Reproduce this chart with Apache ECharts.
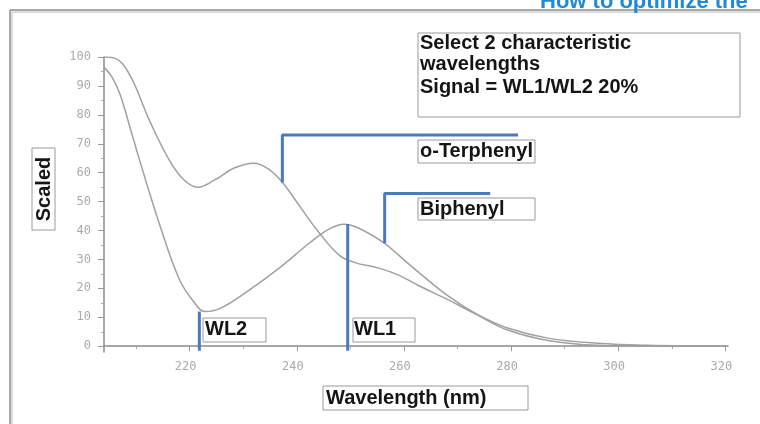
<!DOCTYPE html>
<html><head><meta charset="utf-8">
<script src="https://cdn.jsdelivr.net/npm/echarts@6/dist/echarts.min.js"></script>
<style>html,body{margin:0;padding:0;background:#fff;overflow:hidden}#c{width:760px;height:424px}</style>
</head><body><div id="c"></div>
<script>
// ---- axis ranges & ticks ----
const xRange = [204, 320.5];
const yRange = [-2, 100];
const xTickValues = [220, 240, 260, 280, 300, 320];
const xMinorTickValues = [210, 230, 250, 270, 290, 310];
const yTickValues = [0, 10, 20, 30, 40, 50, 60, 70, 80, 90, 100];
const yMinorTickValues = [5, 15, 25, 35, 45, 55, 65, 75, 85, 95];

// ---- spectra (wavelength nm, scaled absorbance) ----
const terphenylX = [204, 206, 208.8, 212.5, 216.3, 219, 221.5, 224.6, 228.3, 232, 234.9, 237.3, 240.4, 244.1, 247.9, 250.7, 255.3, 259, 262.7, 268.3, 273.9, 279.5, 286.9, 296.2, 305.5, 320];
const terphenylY = [100, 99.6, 93.8, 78, 64, 57.4, 55, 57.4, 61.6, 63.3, 61, 56.7, 48.8, 39.4, 31.5, 29, 27, 24.6, 21, 16, 10.7, 6.2, 2.8, 1, 0.3, 0];
const biphenylX = [204, 205.5, 207, 208.8, 210.7, 214.4, 218.1, 220.9, 222.8, 225.6, 231.1, 236.7, 242.3, 246, 248.8, 251.6, 256.4, 259, 262.7, 268.3, 273.9, 279.5, 286.9, 296.2, 305.5, 320];
const biphenylY = [96.5, 93, 87, 76, 64, 42, 23, 15, 12, 13, 19.4, 27, 35.6, 40.5, 42.2, 40.8, 35.6, 31.5, 25.6, 17.3, 10.7, 5.5, 2, 0.3, 0, 0];

// ---- annotation markers (data coordinates) ----
const markerWL2X = [221.8, 221.8];
const markerWL2Y = [12, -1.6];
const markerWL1X = [249.5, 249.5];
const markerWL1Y = [42.3, -1.6];
const markerTerphenylX = [237.3, 237.3, 281.3];
const markerTerphenylY = [56.6, 73, 73];
const markerBiphenylX = [256.4, 256.4, 276.1];
const markerBiphenylY = [35.6, 52.8, 52.8];

// ---- texts ----
const noteLines = ['Select 2 characteristic', 'wavelengths', 'Signal = WL1/WL2 20%'];
const labelTerphenyl = 'o-Terphenyl';
const labelBiphenyl = 'Biphenyl';
const labelWL1 = 'WL1';
const labelWL2 = 'WL2';
const xTitle = 'Wavelength (nm)';
const yTitle = 'Scaled';
const headerText = 'How to optimize the';

const zip = (xs, ys) => xs.map((x, i) => [x, ys[i]]);

const boldFont = "'Liberation Sans', Arial, sans-serif";
const tickFont = "'DejaVu Sans Mono', monospace";
const curveColor = '#a0a0a0';
const markColor = '#4a7bbf';
const boxBorder = '#9a9a9a';

function box(x, y, w, h) {
  return { type: 'rect', shape: { x: x, y: y, width: w, height: h }, style: { fill: '#fff', stroke: boxBorder, lineWidth: 1 }, z: 10 };
}
function label(text, x, y) {
  return { type: 'text', x: x, y: y, style: { text: text, font: "bold 20px " + boldFont, fill: '#151515', verticalAlign: 'middle', align: 'left' }, z: 11 };
}

const chart = echarts.init(document.getElementById('c'), null, { renderer: 'canvas' });

const lineSeries = (data, color, width, z) => ({
  type: 'line', data: data, showSymbol: false, symbol: 'none', smooth: false,
  lineStyle: { color: color, width: width }, itemStyle: { color: color }, z: z, silent: true, animation: false
});

chart.setOption({
  animation: false,
  backgroundColor: '#fff',
  grid: { left: 104, right: 32, top: 57, bottom: 72, containLabel: false },
  xAxis: [{
    type: 'value', min: xRange[0], max: xRange[1],
    axisLine: { show: true, lineStyle: { color: '#8a8a8a', width: 1.5 } },
    axisTick: { show: true, customValues: xTickValues, length: 5, inside: false, lineStyle: { color: '#999' } },
    axisLabel: { customValues: xTickValues, color: '#aaa', fontFamily: tickFont, fontSize: 12, margin: 9, padding: [0, 8, 0, 0] },
    splitLine: { show: false }
  }, {
    type: 'value', min: xRange[0], max: xRange[1], position: 'bottom',
    axisLine: { show: false },
    axisTick: { show: true, customValues: xMinorTickValues, length: 3, lineStyle: { color: '#aaa' } },
    axisLabel: { show: false }, splitLine: { show: false }
  }],
  yAxis: [{
    type: 'value', min: yRange[0], max: yRange[1],
    axisLine: { show: true, lineStyle: { color: '#8a8a8a', width: 1.5 } },
    axisTick: { show: true, customValues: yTickValues, length: 6, lineStyle: { color: '#999' } },
    axisLabel: { customValues: yTickValues, color: '#aaa', fontFamily: tickFont, fontSize: 12, margin: 13 },
    splitLine: { show: false }
  }, {
    type: 'value', min: yRange[0], max: yRange[1], position: 'left',
    axisLine: { show: false },
    axisTick: { show: true, customValues: yMinorTickValues, length: 3, lineStyle: { color: '#aaa' } },
    axisLabel: { show: false }, splitLine: { show: false }
  }],
  series: [
    Object.assign(lineSeries(zip(terphenylX, terphenylY), curveColor, 1.5, 2), { smooth: 0.4 }),
    Object.assign(lineSeries(zip(biphenylX, biphenylY), curveColor, 1.5, 2), { smooth: 0.4 }),
    lineSeries(zip(markerWL2X, markerWL2Y), markColor, 3, 5),
    lineSeries(zip(markerWL1X, markerWL1Y), markColor, 3, 5),
    lineSeries(zip(markerTerphenylX, markerTerphenylY), markColor, 3, 5),
    lineSeries(zip(markerBiphenylX, markerBiphenylY), markColor, 3, 5)
  ],
  graphic: [
    // page frame
    { type: 'line', shape: { x1: 10, y1: 10, x2: 760, y2: 10 }, style: { stroke: '#8c8c8c', lineWidth: 1.5 }, z: 1 },
    { type: 'line', shape: { x1: 10, y1: 10, x2: 10, y2: 424 }, style: { stroke: '#8c8c8c', lineWidth: 1.5 }, z: 1 },
    { type: 'line', shape: { x1: 12, y1: 12, x2: 760, y2: 12 }, style: { stroke: '#dcdcdc', lineWidth: 2 }, z: 1 },
    { type: 'line', shape: { x1: 12, y1: 12, x2: 12, y2: 424 }, style: { stroke: '#dcdcdc', lineWidth: 2 }, z: 1 },
    { type: 'text', x: 540, y: -9, style: { text: headerText, font: "bold 22px " + boldFont, fill: '#1f8ad6' }, z: 12 },
    // note box
    box(418, 33, 322, 84),
    label(noteLines[0], 420, 43),
    label(noteLines[1], 420, 64),
    label(noteLines[2], 420, 87),
    // species labels
    box(418, 140, 117, 23), label(labelTerphenyl, 420, 151),
    box(418, 198, 117, 22), label(labelBiphenyl, 420, 209),
    box(203, 318, 63, 24), label(labelWL2, 205, 329),
    box(353, 318, 62, 24), label(labelWL1, 354, 329),
    // axis titles
    box(323, 386, 205, 24), label(xTitle, 326, 398),
    box(32, 148, 23, 82),
    { type: 'text', x: 44, y: 189, rotation: Math.PI / 2, style: { text: yTitle, font: "bold 20px " + boldFont, fill: '#151515', align: 'center', verticalAlign: 'middle' }, z: 11 }
  ]
});
</script>
</body></html>
